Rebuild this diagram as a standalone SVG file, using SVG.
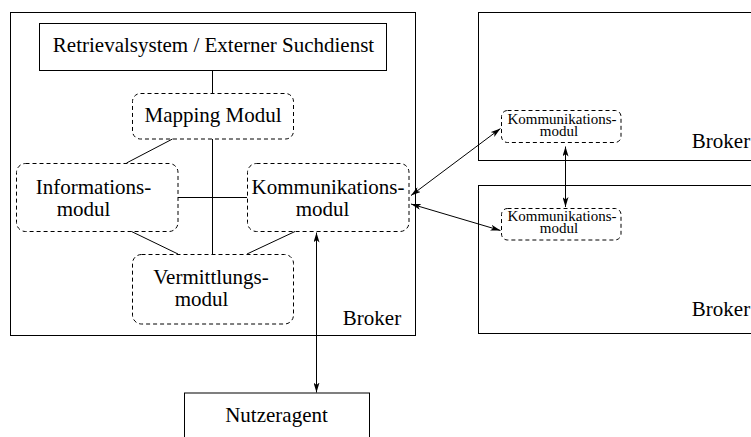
<svg xmlns="http://www.w3.org/2000/svg" width="751" height="437" viewBox="0 0 751 437">
<defs>
<marker id="ah" viewBox="0 0 10 6" refX="10" refY="3" markerWidth="10" markerHeight="6" markerUnits="userSpaceOnUse" orient="auto-start-reverse">
<path d="M0,0 L10,3 L0,6 L2.5,3 Z" fill="#000"/>
</marker>
</defs>
<style>
.box{fill:#fff;stroke:#000;stroke-width:1}
.mod{fill:none;stroke:#000;stroke-width:1;stroke-dasharray:4,3}
.ln{fill:none;stroke:#000;stroke-width:1}
.ar{fill:none;stroke:#000;stroke-width:1;marker-start:url(#ah);marker-end:url(#ah)}
text{font-size:21px;fill:#000;text-anchor:middle}
.sm{font-size:15px}
</style>
<g font-family="'Liberation Serif', 'DejaVu Serif', serif">
<g id="broker-main">
<rect class="box" x="10.5" y="12.5" width="405" height="323"/>
<text x="372" y="325">Broker</text>
</g>
<g id="broker-right-top">
<rect class="box" x="478.5" y="12.5" width="290" height="148"/>
<text x="721" y="148">Broker</text>
</g>
<g id="broker-right-bottom">
<rect class="box" x="478.5" y="185.5" width="290" height="148"/>
<text x="721" y="316">Broker</text>
</g>
<g id="retrieval">
<rect class="box" x="39.5" y="23.5" width="347" height="47"/>
<text x="213.5" y="52">Retrievalsystem / Externer Suchdienst</text>
</g>
<g id="connectors">
<line class="ln" x1="212.5" y1="70.5" x2="212.5" y2="93"/>
<line class="ln" x1="212.5" y1="139" x2="212.5" y2="254"/>
<line class="ln" x1="178" y1="197.5" x2="247" y2="197.5"/>
<line class="ln" x1="172.5" y1="139" x2="126.5" y2="163"/>
<line class="ln" x1="131.5" y1="231.5" x2="178" y2="254"/>
<line class="ln" x1="295" y1="231.5" x2="247" y2="254"/>
<line class="ar" x1="316.5" y1="232.5" x2="316.5" y2="392.5"/>
<line class="ar" x1="411" y1="195.5" x2="500.5" y2="128.5"/>
<line class="ar" x1="411" y1="204" x2="500.5" y2="230.5"/>
<line class="ar" x1="565.5" y1="146.5" x2="565.5" y2="207"/>
</g>
<g id="mapping">
<rect class="mod" x="132.5" y="93.5" width="161" height="45.5" rx="8"/>
<text x="213" y="122">Mapping Modul</text>
</g>
<g id="informationsmodul">
<rect class="mod" x="16.5" y="163.5" width="161.5" height="68" rx="9"/>
<text x="93.5" y="193.5">Informations-</text>
<text x="83.5" y="215.5">modul</text>
</g>
<g id="kommunikationsmodul">
<rect class="mod" x="247.5" y="163.5" width="161.5" height="68" rx="9"/>
<text x="328" y="193.5">Kommunikations-</text>
<text x="322.5" y="215.5">modul</text>
</g>
<g id="vermittlungsmodul">
<rect class="mod" x="132.5" y="254.5" width="161" height="69.5" rx="9"/>
<text x="211" y="283.5">Vermittlungs-</text>
<text x="201.5" y="306">modul</text>
</g>
<g id="komm-top">
<rect class="mod" x="501.5" y="110.5" width="119.5" height="32" rx="6"/>
<text class="sm" x="562" y="124">Kommunikations-</text>
<text class="sm" x="559" y="136">modul</text>
</g>
<g id="komm-bottom">
<rect class="mod" x="501.5" y="208.5" width="119.5" height="31.5" rx="6"/>
<text class="sm" x="562" y="221">Kommunikations-</text>
<text class="sm" x="559" y="233">modul</text>
</g>
<g id="nutzeragent">
<rect class="box" x="184.5" y="393" width="185" height="60"/>
<text x="276.5" y="422">Nutzeragent</text>
</g>
</g>
</svg>
